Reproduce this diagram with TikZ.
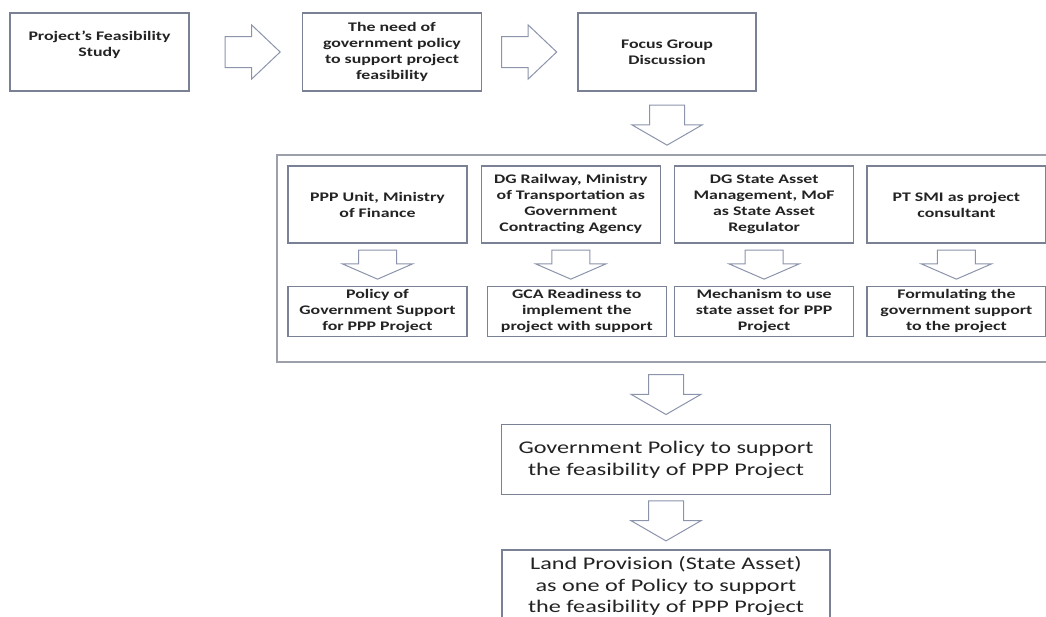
\documentclass[tikz,border=0pt]{standalone}
\usepackage{fontspec}
\setmainfont{Carlito}[FakeStretch=1.36]
\usetikzlibrary{positioning,shapes.arrows}
\definecolor{boxline}{RGB}{122,129,148}
\definecolor{arrline}{RGB}{140,148,172}
\definecolor{frameline}{RGB}{155,160,170}
\definecolor{txt}{RGB}{35,35,35}
\begin{document}
\begin{tikzpicture}[x=1pt, y=-1pt, thick,
    box/.style = {draw=boxline, line width=1.3pt, fill=white, align=center, text=txt, inner sep=0pt, font=\fontsize{13.1}{16}\selectfont\bfseries},
    topbox/.style = {box, minimum width=179pt, minimum height=78pt},
    inbox/.style = {box, minimum width=179pt, minimum height=77pt},
    lowbox/.style = {box, minimum width=179pt, minimum height=50pt},
    bigbox/.style = {box, font=\fontsize{17.8}{21.7}\selectfont},
    rarr/.style = {single arrow, draw=arrline, line width=1pt, fill=white, inner xsep=0pt, inner ysep=15pt, minimum height=55pt, minimum width=53pt, single arrow head extend=11.5pt, single arrow tip angle=87, anchor=tail},
    darr/.style = {rarr, rotate=-90, inner ysep=17pt, minimum height=40pt, minimum width=69pt, single arrow head extend=17.5pt, single arrow tip angle=120},
    sarr/.style = {rarr, rotate=-90, inner ysep=18.5pt, minimum height=29pt, minimum width=69pt, single arrow head extend=16pt, single arrow tip angle=133}]
    \useasboundingbox (0,0) rectangle (1046,616);

    % top row
    \node[topbox] (1) at (99.5,52) {Project’s Feasibility\\Study\\\mbox{}};
    \node[rarr] (a1) at ([xshift=35pt]1.east) {};
    \node[topbox, right=21pt of a1.tip] (2) {The need of\\government policy\\to support project\\feasibility};
    \node[rarr] (a2) at ([xshift=19pt]2.east) {};
    \node[topbox, minimum width=178pt, right=20pt of a2.tip] (3) {Focus Group\\Discussion};
    \node[darr] (a3) at ([yshift=-13pt]3.south) {};

    % group frame
    \node[draw=frameline, line width=2pt, inner sep=0pt, minimum width=771pt, minimum height=207pt] (grp) at (662.5,258.5) {};

    \node[inbox] (4) at (377.5,204.5) {PPP Unit, Ministry\\of Finance};
    \node[inbox, right=13pt of 4] (5) {DG Railway, Ministry\\of Transportation as\\Government\\Contracting Agency};
    \node[inbox, right=13pt of 5] (6) {DG State Asset\\Management, MoF\\as State Asset\\Regulator};
    \node[inbox, right=12pt of 6] (7) {PT SMI as project\\consultant};

    \node[lowbox, below=42pt of 4] (8) {Policy of\\Government Support\\for PPP Project};
    \node[lowbox, below=42pt of 5, xshift=6pt] (9) {GCA Readiness to\\implement the\\project with support};
    \node[lowbox, below=42pt of 6] (10) {Mechanism to use\\state asset for PPP\\Project};
    \node[lowbox, below=42pt of 7] (11) {Formulating the\\government support\\to the project};

    \foreach \i in {4,...,7}
        \node[sarr] (s\i) at ([yshift=-6pt]\i.south) {};

    % bottom
    \node[darr] (a4) at ([xshift=3.5pt, yshift=-11pt]grp.south) {};
    \node[bigbox, minimum width=329pt, minimum height=70pt, below=9pt of a4.tip] (12) {Government Policy to support\\the feasibility of PPP Project};
    \node[darr] (a5) at ([yshift=-5pt]12.south) {};
    \node[bigbox, minimum width=328pt, minimum height=72pt, below=8pt of a5.tip] (13) {Land Provision (State Asset)\\as one of Policy to support\\the feasibility of PPP Project};
\end{tikzpicture}
\end{document}
